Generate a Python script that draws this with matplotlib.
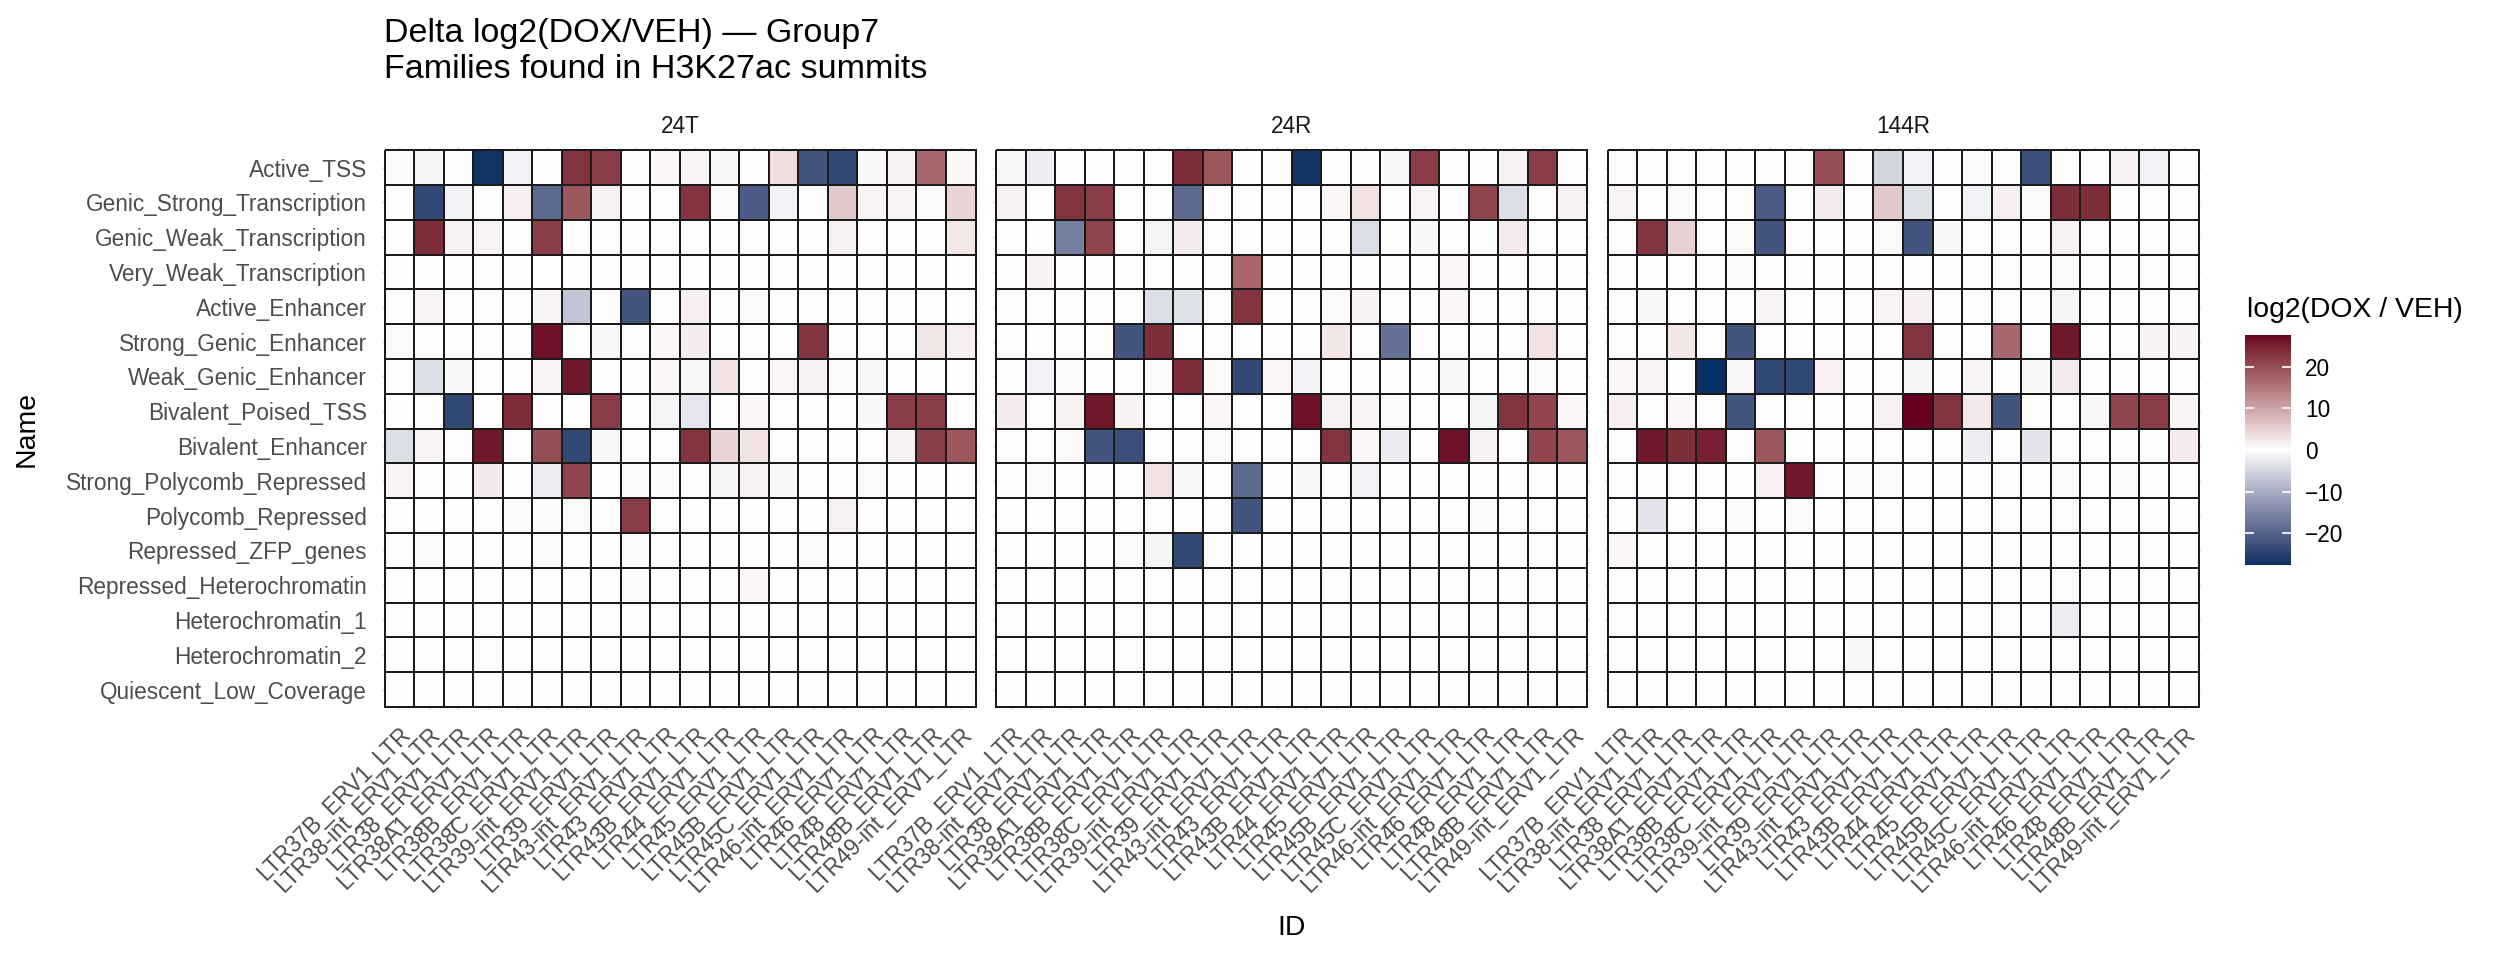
import numpy as np
import matplotlib
matplotlib.use("Agg")
import matplotlib.pyplot as plt
from matplotlib.colors import ListedColormap, Normalize
from matplotlib.cm import ScalarMappable
import matplotlib.transforms as mtransforms

plt.rcParams['font.family'] = ['Liberation Sans', 'DejaVu Sans']

# ---------------- data ----------------
states = ["Active_TSS", "Genic_Strong_Transcription", "Genic_Weak_Transcription",
          "Very_Weak_Transcription", "Active_Enhancer", "Strong_Genic_Enhancer",
          "Weak_Genic_Enhancer", "Bivalent_Poised_TSS", "Bivalent_Enhancer",
          "Strong_Polycomb_Repressed", "Polycomb_Repressed", "Repressed_ZFP_genes",
          "Repressed_Heterochromatin", "Heterochromatin_1", "Heterochromatin_2",
          "Quiescent_Low_Coverage"]

id_labels = ["LTR37B_ERV1_LTR", "LTR38-int_ERV1_LTR", "LTR38_ERV1_LTR", "LTR38A1_ERV1_LTR",
             "LTR38B_ERV1_LTR", "LTR38C_ERV1_LTR", "LTR39-int_ERV1_LTR", "LTR39_ERV1_LTR",
             "LTR43-int_ERV1_LTR", "LTR43_ERV1_LTR", "LTR43B_ERV1_LTR", "LTR44_ERV1_LTR",
             "LTR45_ERV1_LTR", "LTR45B_ERV1_LTR", "LTR45C_ERV1_LTR", "LTR46-int_ERV1_LTR",
             "LTR46_ERV1_LTR", "LTR48_ERV1_LTR", "LTR48B_ERV1_LTR", "LTR49-int_ERV1_LTR"]

conditions = ["24T", "24R", "144R"]

vals_24T = [
    [-0.5, -1, 0, -27, -1.5, 0, 23, 22, 0, 0.8, 1, -0.8, 0.1, 3.5, -22, -24, -0.7, 1.5, 17, 0.8],
    [0, -24, -1.5, 0, 1.8, -19, 19, 1.5, 0, 0.3, 23, 0.5, -21, -1.5, 0, 6, 1, 1, 0.5, 4.5],
    [0, 24, 1.5, 1.2, 0.2, 22, 0.3, -0.4, 0, 0.2, 0.2, 0, 0.2, 0.1, 0, 1.5, 0, 0, 0, 2.5],
    [0.05, 0.1, 0, 0.1, 0, -0.1, 0, 0.05, 0, 0, 0.1, 0, 0.05, 0.2, 0, 0.05, 0.05, 0.05, 0.05, 0],
    [0.2, 1.0, -0.3, 0, 0.05, 1.0, -7, 0.2, -22, 0, 1.8, 0, 0.6, 0, -0.3, 0.05, 0.05, 0, 0.1, 0.05],
    [-0.6, 0, 0, 0.05, 0, 26.5, 0, -0.8, 0, 0.8, 2.0, 0, 0, 0, 23, 0, 0, 0, 2.8, 1.8],
    [0, -4, -0.7, 0.2, 0.1, 1.2, 26, 0, 0, 0.8, -0.8, 3, -0.3, 0.9, 1.5, -0.5, -0.8, 0.1, 0, 0],
    [0.1, 0, -24, 0, 24, 0, 0, 22, 0, -1.2, -3, 0, 0.8, 0, 0, 0, -0.7, 22, 22, 0.1],
    [-3.8, 1.0, 0.1, 26, 0, 20, -24, -0.8, 0, 0.3, 23, 4.5, 3, 0.2, 0, 0, 0.2, 1.5, 22, 19],
    [1.2, 0, 0.2, 2.3, 0.2, -2, 21, 0, 0.5, 0.5, 0, -1.2, 1.5, -0.7, -0.4, -0.2, -0.6, 0.05, 0.1, 0],
    [0, 0, 0, 0.1, 0.5, 0.5, 0.6, 0, 22, 0.1, 0, 0, 0, 0, 0.05, 1.5, 0, -0.2, 0, 0],
    [0, -0.5, 0, 0, 0.1, -0.5, 0.05, 0.05, 0.5, 0.05, 0.05, 0.1, 0.05, 0, -0.6, 0.05, 0, 0, 0.1, 0.05],
    [0.05, 0, 0, 0.1, 0, 0, 0.05, 0.05, -0.6, 0, 0.05, 0, 0.7, 0.05, 0, 0.05, 0, 0, 0.05, 0.05],
    [0, 0.1, 0, 0, 0, 0, 0, 0, 0.1, 0, 0, 0.05, 0.05, 0, 0, 0.05, 0, 0.05, 0, 0],
    [0, 0.1, 0, -0.4, 0.05, 0.05, 0.1, 0.05, 0, -0.2, 0, 0.05, 0, 0, 0, 0.3, 0.05, 0, 0.05, 0.05],
    [0, 0, 0, 0.1, 0, 0, 0, 0, 0, 0, 0, 0, 0, 0, 0, 0, 0, 0, 0, 0],
]

vals_24R = [
    [-0.8, -2, 0.1, 0, 0.1, 0, 24, 19, 0, 0.2, -27, 0.1, -0.3, -0.8, 22, 0, 0.2, 1.5, 22, 0.1],
    [1.5, 0, 23, 22, 0.1, 0, -19, 0, 0, 0.2, 0, 0.9, 3.2, -0.2, 1.2, -0.2, 21, -4, 0, 1.5],
    [0, 0, -16, 21, -0.3, -1.2, 2.0, 0, 0, 0.2, 0, 0, -4, 0.1, -0.7, 0.1, 0.2, 2.2, -0.2, 0.2],
    [0, 1.3, 0.05, -0.2, 0.1, 0, -0.2, 0, 17, 0.1, 0, 0.05, 0, 0.1, 0.1, 0.7, -0.4, 0, 0, 0],
    [0, -0.3, 0, 0, 0, -4, -3.5, 0, 23, 0.1, 0, 0.5, 1.3, 0, 0.1, 0.8, 0, 0.1, 0.1, 0.1],
    [0.1, 0, 0, 0.05, -22, 24, 0, 0.1, 0, 0, 0.05, 2.7, 0, -18, 0, 0, 0.05, 0.05, 3.0, 0.1],
    [0.05, -1.5, -0.5, 0, 0, -0.5, 24, 0.5, -24, 0.8, -1.5, 0, 0.05, 0, 0.1, -0.7, 0, -0.3, 0.5, 0],
    [2.0, 0, 1.4, 26, 1.3, 0, 0, 0.8, 0, 0.1, 26.5, 1.6, 1.0, -0.6, 0, 0, -1.2, 23, 21, 0.8],
    [0.3, 0.2, 0.5, -22, -23, 0, 0, 0.6, 0, 0, 0, 23, 0.8, -2.2, 0.1, 26.5, 1.3, 0.1, 21, 19],
    [0.2, 0.5, 0.2, 0, -0.3, 3, -0.8, 0.05, -19, -0.2, -0.7, 0.2, -1.6, -0.2, 0.1, 0.1, 0.1, 0, 0, 0],
    [0.1, 0.1, -0.3, 0, 0.1, 0, 0, 0.05, -22, 0, 0, 0.05, 0, 0.1, 0.05, 0.15, -0.5, 0, -0.3, 0],
    [0.15, 0.05, 0, 0.05, -0.6, -1.2, -24, 0.05, 0.05, 0, 0.05, 0.05, 0, 0, 0, 0, 0, 0.05, 0.3, 0.05],
    [0, 0.1, 0.15, 0, 0, 0.1, -0.3, 0, 0.3, 0.05, 0.05, 0.15, 0, 0.1, 0, 0.15, 0.05, 0.05, 0.05, 0.05],
    [0, 0, 0, 0.05, 0.1, 0.05, 0, 0, 0.05, 0, 0, 0, 0, 0, 0, 0, 0, 0, 0, 0],
    [0, -0.2, 0, 0.05, -0.4, 0.05, 0.05, 0, 0.05, 0, 0, 0, 0, 0, 0, 0, 0.1, 0, 0, 0],
    [0, 0, 0, 0.15, 0, 0, 0.1, 0, 0, 0, 0, 0.05, 0, 0, 0, 0, 0, 0, 0, 0],
]

vals_144R = [
    [-0.4, 0, 0.2, 0, 0.1, 0, 0, 20, 0, -5, -1.6, -0.3, 0.5, 0.1, -23, -0.3, 0.1, 1.5, -1.6, 0],
    [1.2, 0, -0.5, 0, 0.3, -21, 0.1, 2.0, 0, 6, -3.5, 0, -1.6, 1.8, -0.6, 24, 24, -0.2, 0, 0],
    [0.2, 23, 4.8, 0.2, -0.6, -22, 0.3, 0, 0, -0.6, -22, -0.7, 0, 0.1, -0.3, 1.5, -0.3, 0, 0, 0],
    [0, 0.05, 0.1, 0.05, 0.5, 0.1, 0, 0, 0, 0, 0.1, 0, 0.2, 0.15, 0.1, -0.6, 0.15, 0.15, 0.15, 0.15],
    [0.1, -0.7, -0.2, -0.2, 0, 1.0, 0, 0.2, 0, 1.2, 1.8, 0.1, 0, 0, 0.1, -1.2, 0, 0.05, 0.05, 0.1],
    [0.05, 0, 2.6, 0.2, -22, 0, 0, 0.05, 0, 0, 23, 0, 0, 17, 0.2, 26, 0, 0, 1.3, 1.4],
    [0.7, 1.0, 0.1, -27.5, -0.9, -24, -24, 1.7, 0, 0.05, -1.2, 0, 1.0, -0.3, -0.7, 2.2, 0, 0.1, 0.05, 0],
    [1.8, 0, 0.8, 0, -22, 0, 0, 0.1, 0, 1.6, 27.7, 23, 2.3, -22, 0, 0, -0.8, 21, 22, 1.2],
    [0.15, 26, 24, 25, 0, 19, 0, 0, 0, 0.3, -0.3, 0.1, -2, 0, -3.2, 0, 0.1, 0, 0.05, 2.1],
    [0.3, 0, -0.3, 0.1, 0.05, 1.7, 26, 0, -0.6, 0.5, 0.05, 0, 0, 0, 0.4, -0.5, -0.3, 0.6, 0.15, 0],
    [0, -3.2, 0, 0.15, 0.5, 0, -0.5, 0.05, -0.3, -0.3, 0.3, 0, 0, 0.05, 0.1, -0.4, 0, 0.05, 0.05, 0],
    [0.7, -0.3, 0, 0, 0.05, 0.05, 0, 0.1, 0, 0, 0, 0.1, 0.05, 0, 0, 0, 0.05, 0.05, 0.2, 0],
    [0.05, -0.3, 0.05, -0.2, 0.05, 0.15, 0, 0, 0.1, 0.05, 0, 0, -0.2, 0, 0.05, -0.4, 0.05, 0, 0.15, 0],
    [0, 0, 0, 0, 0, 0, 0, 0, 0, 0, 0, 0, 0, 0, 0, -2, 0, 0, 0, 0],
    [0, 0.3, 0.05, 0, 0, 0.1, 0.1, 0, -0.8, -0.3, 0, 0, 0, 0, 0, 0.1, 0, 0, 0, 0.05],
    [0, 0, 0, 0, 0, 0, 0, 0, 0, 0, 0, 0, 0.05, 0, 0, 0, 0.1, 0, 0.05, 0],
]

legend_ticks = [-20, -10, 0, 10, 20]

# ---------------- colour scale (Lab interpolation like ggplot gradient2) ----------------
def hex2rgb(h):
    h = h.lstrip('#')
    return np.array([int(h[i:i + 2], 16) / 255.0 for i in (0, 2, 4)])

M = np.array([[0.4124564, 0.3575761, 0.1804375],
              [0.2126729, 0.7151522, 0.0721750],
              [0.0193339, 0.1191920, 0.9503041]])
WP = np.array([0.95047, 1.0, 1.08883])


def srgb2lab(rgb):
    rgb = np.asarray(rgb, float)
    lin = np.where(rgb <= 0.04045, rgb / 12.92, ((rgb + 0.055) / 1.055) ** 2.4)
    xyz = M @ lin / WP
    d = 6 / 29
    f = np.where(xyz > d ** 3, np.cbrt(xyz), xyz / (3 * d * d) + 4 / 29)
    return np.array([116 * f[1] - 16, 500 * (f[0] - f[1]), 200 * (f[1] - f[2])])


def lab2srgb(lab):
    L_, a, b = lab
    fy = (L_ + 16) / 116
    fx = fy + a / 500
    fz = fy - b / 200
    d = 6 / 29
    f = np.array([fx, fy, fz])
    xyz = np.where(f > d, f ** 3, 3 * d * d * (f - 4 / 29)) * WP
    lin = np.linalg.solve(M, xyz)
    lin = np.clip(lin, 0, 1)
    rgb = np.where(lin <= 0.0031308, 12.92 * lin, 1.055 * lin ** (1 / 2.4) - 0.055)
    return np.clip(rgb, 0, 1)


lab_lo = srgb2lab(hex2rgb("#053061"))
lab_mid = srgb2lab(hex2rgb("#FFFFFF"))
lab_hi = srgb2lab(hex2rgb("#67001F"))
cols = []
for t in np.linspace(0, 1, 512):
    if t < 0.5:
        lab = lab_lo + (lab_mid - lab_lo) * (t / 0.5)
    else:
        lab = lab_mid + (lab_hi - lab_mid) * ((t - 0.5) / 0.5)
    cols.append(lab2srgb(lab))
cmap = ListedColormap(cols)

all_vals = np.concatenate([np.ravel(vals_24T), np.ravel(vals_24R), np.ravel(vals_144R)])
LIM = float(np.max(np.abs(all_vals)))
norm = Normalize(-LIM, LIM)

# ---------------- layout (pixels) ----------------
W, H = 2496, 960
DPI = 100
fig = plt.figure(figsize=(W / DPI, H / DPI), dpi=DPI)
fig.patch.set_facecolor('white')

tile_left = [384.5, 996.0, 1607.5]
tile_w = 591.0
tile_top, tile_bot = 150.3, 707.0
ncol, nrow = len(id_labels), len(states)
cw = tile_w / ncol
rh = (tile_bot - tile_top) / nrow
EXP = 0.1

TXT = 16.3
GREY30 = '#4D4D4D'

for k, (cond, vals) in enumerate(zip(conditions, [vals_24T, vals_24R, vals_144R])):
    x0 = tile_left[k] - EXP * cw
    x1 = tile_left[k] + tile_w + EXP * cw
    y0 = tile_top - EXP * rh
    y1 = tile_bot + EXP * rh
    ax = fig.add_axes([x0 / W, 1 - y1 / H, (x1 - x0) / W, (y1 - y0) / H])
    Z = np.array(vals, float)
    ax.pcolormesh(np.arange(ncol + 1) - 0.5, np.arange(nrow + 1) - 0.5, Z,
                  cmap=cmap, norm=norm, edgecolors='#1A1A1A', linewidth=1.2, zorder=2)
    ax.set_xlim(-0.6, ncol - 0.4)
    ax.set_ylim(nrow - 0.4, -0.6)
    ax.set_xticks(np.arange(ncol))
    ax.set_yticks(np.arange(nrow))
    ax.grid(True, color='#EBEBEB', linewidth=2.0, zorder=0)
    ax.set_axisbelow(True)
    for s in ax.spines.values():
        s.set_visible(False)
    ax.tick_params(axis='both', length=0)
    ax.tick_params(axis='x', pad=9)
    ax.tick_params(axis='y', pad=10.4)
    ax.set_xticklabels(id_labels, rotation=45, ha='right', va='top',
                       rotation_mode='anchor', fontsize=TXT, color=GREY30)
    if k == 0:
        ax.set_yticklabels(states, fontsize=TXT, color=GREY30)
    else:
        ax.set_yticklabels([])
    cx = (tile_left[k] + tile_w / 2) / W
    fig.text(cx, 1 - 133 / H, cond, ha='center', va='baseline', fontsize=TXT, color='#1A1A1A')

# titles
fig.text(384.5 / W, 1 - 42 / H, "Delta log2(DOX/VEH) \u2014 Group7", ha='left', va='baseline',
         fontsize=24.5, color='black')
fig.text(384.5 / W, 1 - 78 / H, "Families found in H3K27ac summits", ha='left', va='baseline',
         fontsize=24.5, color='black')

# axis titles
fig.text((tile_left[0] + tile_left[2] + tile_w) / 2 / W, 1 - 928 / H, "ID", ha='center', va='center',
         fontsize=20.4, color='black')
fig.text(27 / W, 1 - 428.7 / H, "Name", ha='center', va='center', rotation=90,
         fontsize=20.4, color='black')

# legend
cax = fig.add_axes([2245 / W, 1 - 565 / H, 46 / W, 230 / H])
cb = fig.colorbar(ScalarMappable(norm=norm, cmap=cmap), cax=cax, ticks=legend_ticks)
cb.outline.set_visible(False)
cax.tick_params(length=0, pad=10, labelsize=TXT, labelcolor='black')
tr = mtransforms.blended_transform_factory(cax.transAxes, cax.transData)
cax.hlines(legend_ticks, 0, 0.2, colors='white', linewidth=1.2, transform=tr)
cax.hlines(legend_ticks, 0.8, 1.0, colors='white', linewidth=1.2, transform=tr)
fig.text(2247 / W, 1 - 317 / H, "log2(DOX / VEH)", ha='left', va='baseline', fontsize=20.4, color='black')

fig.savefig('out.png', dpi=DPI, facecolor='white')
